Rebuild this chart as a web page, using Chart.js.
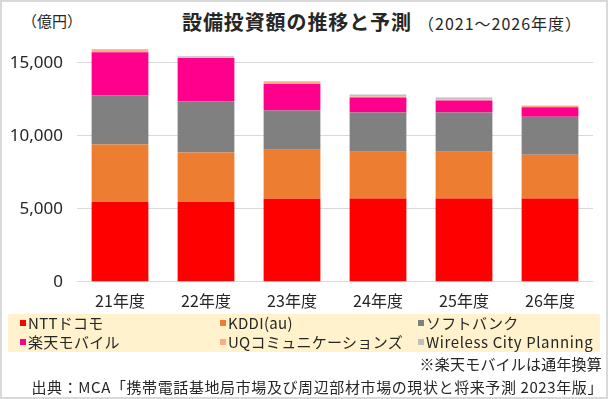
<!DOCTYPE html>
<html lang="ja">
<head>
<meta charset="utf-8">
<script src="https://cdn.jsdelivr.net/npm/chart.js@4"></script>
<style>
  html, body { margin: 0; padding: 0; background: #fff; }
  body { width: 608px; height: 399px; overflow: hidden; font-family: "Noto Sans CJK JP", "Noto Sans", sans-serif; color: #262626; }
  #frame { position: absolute; left: 0; top: 0; width: 604px; height: 395px; border: 2px solid #d9d9d9; }
  #unit { position: absolute; left: 22px; top: 10px; font-size: 15px; }
  #title { position: absolute; left: 182px; top: 7px; font-size: 20px; font-weight: bold; letter-spacing: 0.9px; }
  #subtitle { position: absolute; left: 418px; top: 11px; font-size: 16px; letter-spacing: 1.0px; }
  #wrap { position: absolute; left: 0; top: 24px; width: 608px; height: 289px; }
  #legend { position: absolute; left: 8px; top: 314px; width: 592px; height: 38px; background: #fff2cc; }
  .item { position: absolute; font-size: 15px; line-height: 18px; white-space: nowrap; letter-spacing: 0.3px; }
  .item.latin { letter-spacing: 0.6px; }
  .item i { display: inline-block; width: 6px; height: 6px; margin-right: 2px; vertical-align: 3px; }
  #note { position: absolute; right: 6px; top: 353px; font-size: 15px; letter-spacing: 0.2px; }
  #source { position: absolute; right: 5px; top: 376px; font-size: 15px; letter-spacing: 0.6px; }
</style>
</head>
<body>
<div id="frame"></div>
<div id="unit">（億円）</div>
<div id="title">設備投資額の推移と予測</div>
<div id="subtitle">（2021～2026年度）</div>
<div id="wrap"><canvas id="chart"></canvas></div>
<div id="legend"></div>
<div id="note">※楽天モバイルは通年換算</div>
<div id="source">出典：MCA「携帯電話基地局市場及び周辺部材市場の現状と将来予測 2023年版」</div>
<script>
// データ（億円）
const categories = ['21年度', '22年度', '23年度', '24年度', '25年度', '26年度'];
const seriesNames = ['NTTドコモ', 'KDDI(au)', 'ソフトバンク', '楽天モバイル', 'UQコミュニケーションズ', 'Wireless City Planning'];
const docomo   = [5480, 5480, 5680, 5700, 5700, 5700];
const kddi     = [3920, 3370, 3370, 3210, 3210, 3000];
const softbank = [3370, 3500, 2680, 2680, 2680, 2610];
const rakuten  = [2950, 2980, 1810, 1030, 820, 640];
const uq       = [200, 10, 180, 70, 70, 120];
const wcp      = [20, 110, 30, 140, 140, 0];
const yTicks   = [0, 5000, 10000, 15000];

const seriesValues = [docomo, kddi, softbank, rakuten, uq, wcp];
const seriesColors = ['#ff0000', '#ed7d31', '#808080', '#ff008c', '#f4b183', '#bfbfbf'];

const datasets = seriesNames.map((name, i) => ({
    label: name,
    data: seriesValues[i],
    backgroundColor: seriesColors[i],
    borderWidth: 0,
    categoryPercentage: 1.0,
    barPercentage: 0.66
}));

new Chart(document.getElementById('chart'), {
    type: 'bar',
    data: { labels: categories, datasets: datasets },
    options: {
        responsive: true,
        maintainAspectRatio: false,
        animation: false,
        layout: { padding: { left: 0, right: 15, top: 0, bottom: 0 } },
        plugins: {
            legend: { display: false },
            tooltip: { enabled: false }
        },
        scales: {
            x: {
                stacked: true,
                grid: { display: false },
                border: { display: false },
                ticks: { color: '#262626', font: { size: 16, family: '"Noto Sans CJK JP", sans-serif' }, padding: 2 }
            },
            y: {
                stacked: true,
                min: 0,
                max: 16000,
                afterBuildTicks: scale => {
                    scale.ticks = yTicks.map(v => ({ value: v }));
                },
                afterFit: scale => { scale.width = 77; },
                grid: { color: '#d9d9d9', lineWidth: 1, drawTicks: false },
                border: { display: false },
                ticks: {
                    color: '#262626',
                    padding: 14,
                    font: { size: 17, family: '"Noto Sans", sans-serif' },
                    callback: v => v.toLocaleString('en-US')
                }
            }
        }
    }
});

// 凡例（3列）
const legendBox = document.getElementById('legend');
const colX = [12, 212, 410];
const rowY = [0, 19];
seriesNames.forEach((name, i) => {
    const el = document.createElement('div');
    el.className = /^[A-Za-z ]+$/.test(name) ? 'item latin' : 'item';
    el.style.left = colX[i % 3] + 'px';
    el.style.top = rowY[Math.floor(i / 3)] + 'px';
    el.innerHTML = `<i style="background:${seriesColors[i]}"></i>${name}`;
    legendBox.appendChild(el);
});
</script>
</body>
</html>
